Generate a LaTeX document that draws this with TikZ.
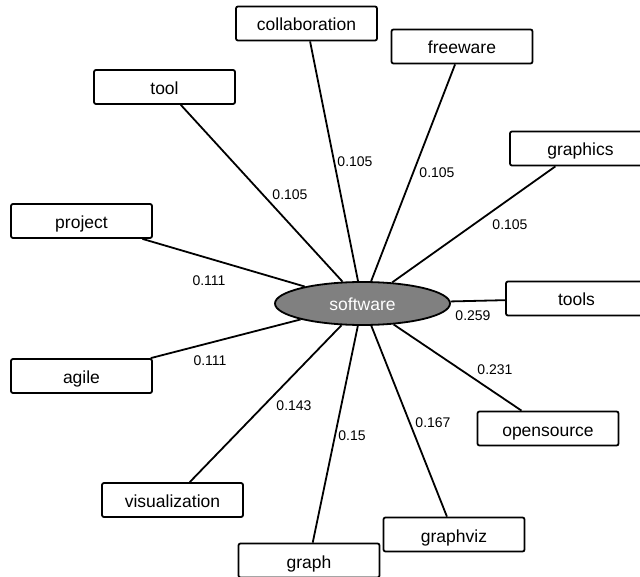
\documentclass[tikz,border=0pt]{standalone}
\usepackage{fontspec}
\setmainfont{Liberation Sans}
\usetikzlibrary{shapes.geometric}
\tikzset{
  term/.style={draw=black, line width=1.8pt, rounded corners=2pt, fill=white,
    minimum width=141pt, minimum height=34pt, inner sep=0pt,
    text height=15pt, text depth=0pt,
    font=\fontsize{17.5}{20}\selectfont},
  hub/.style={ellipse, draw=black, line width=1.8pt, fill=black!50, text=white,
    minimum width=175pt, minimum height=43pt, inner sep=0pt,
    text height=14pt, text depth=0pt,
    font=\fontsize{17.5}{20}\selectfont},
  link/.style={line width=1.8pt, black},
  wt/.style={inner sep=0pt, font=\fontsize{14}{16}\selectfont}
}
\begin{document}
\begin{tikzpicture}[x=1pt, y=-1pt]
\useasboundingbox (0,0) rectangle (640,577);
\node[hub] (sw) at (362.5,303.5) {software};
\node[term] (collab) at (306.5,23.5) {collaboration};
\node[term] (free) at (462,46.5) {freeware};
\node[term] (tool) at (164.5,87) {tool};
\node[term] (gfx) at (580.5,148.5) {graphics};
\node[term] (tools) at (576.5,298.5) {tools};
\node[term] (proj) at (81.5,221) {project};
\node[term] (agile) at (81.5,376) {agile};
\node[term] (open) at (548,428.5) {opensource};
\node[term] (gviz) at (454,534.5) {graphviz};
\node[term] (graph) at (309,560.5) {graph};
\node[term] (vis) at (172.5,500) {visualization};
\draw[link] (sw) -- (collab);
\draw[link] (sw) -- (free);
\draw[link] (sw) -- (tool);
\draw[link] (sw) -- (gfx);
\draw[link] (sw) -- (tools);
\draw[link] (sw) -- (proj);
\draw[link] (sw) -- (agile);
\draw[link] (sw) -- (open);
\draw[link] (sw) -- (gviz);
\draw[link] (sw) -- (graph);
\draw[link] (sw) -- (vis);
\node[wt] (l1) at (290,195) {0.105};
\node[wt] (l2) at (355,162) {0.105};
\node[wt] (l3) at (437,173) {0.105};
\node[wt] (l4) at (510,225) {0.105};
\node[wt] (l5) at (473,316) {0.259};
\node[wt] (l6) at (209,281) {0.111};
\node[wt] (l7) at (210,361) {0.111};
\node[wt] (l8) at (294,406) {0.143};
\node[wt] (l9) at (352,436) {0.15};
\node[wt] (l10) at (433,423) {0.167};
\node[wt] (l11) at (495,370) {0.231};
\end{tikzpicture}
\end{document}
